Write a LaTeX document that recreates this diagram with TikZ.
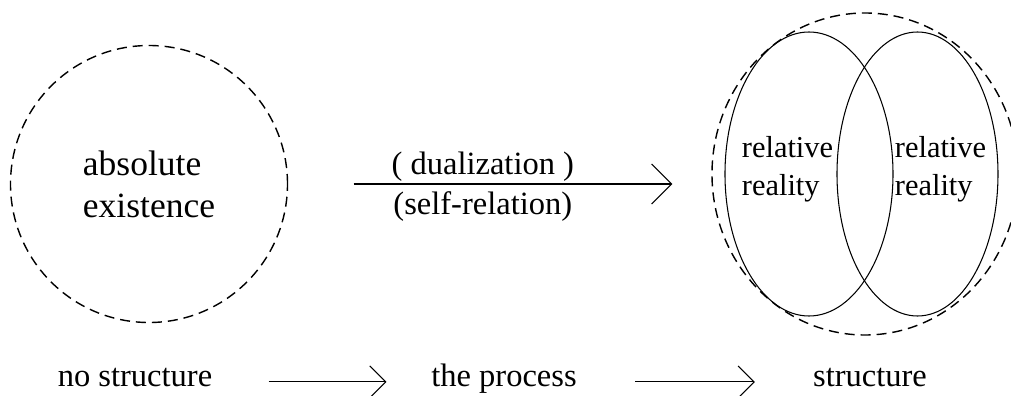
\documentclass[tikz,border=0pt]{standalone}
\usepackage{fontspec}
\setmainfont{Liberation Serif}
\usepackage{tikz}
\usetikzlibrary{arrows.meta,positioning,shapes}
\tikzset{
    %Define style for the dashed outlines
    dcirc/.style={
           circle,
           dashed,
           dash pattern=on 5.7pt off 3.4pt,
           draw=black, line width=0.8pt,
           inner sep=0pt,
           align=left},
    dell/.style={
           ellipse,
           dashed,
           dash pattern=on 5.7pt off 3.4pt,
           draw=black, line width=0.8pt,
           inner sep=0pt},
    sell/.style={
           ellipse,
           draw=black, line width=0.6pt,
           inner sep=0pt},
    % Define text styles
    txt/.style={
           inner sep=0pt,
           font=\fontsize{18.5}{22}\selectfont},
    reltxt/.style={
           inner sep=0pt,
           align=left,
           font=\fontsize{17.3}{21.6}\selectfont},
    % Define arrow styles
    bigarr/.style={
           -{Straight Barb[length=0.4cm,width=0.8cm]},
           line width=0.6pt},
    arr/.style={
           -{Straight Barb[length=0.32cm,width=0.64cm]},
           line width=0.6pt}
}
\begin{document}
\begin{tikzpicture}
    \useasboundingbox (0,0) rectangle (20.22,7.9);

    % NO STRUCTURE
    \node[dcirc, minimum size=5.54cm,
          font=\fontsize{20.2}{23.9}\selectfont] at (2.98,4.22) (absolute) {absolute\\existence};

    % STRUCTURE
    \node[dell, minimum width=6.12cm, minimum height=6.44cm] at (17.30,4.42) (whole) {};
    \node[sell, minimum width=3.36cm, minimum height=5.68cm] at (16.18,4.42) (leftrel) {};
    \node[sell, minimum width=3.22cm, minimum height=5.68cm] at (18.35,4.42) (rightrel) {};
    \node[reltxt] at (15.75,4.52) (lefttxt) {relative\\reality};
    \node[reltxt] at (18.81,4.52) (righttxt) {relative\\reality};

    % DUALIZATION
    \draw[bigarr, shorten <=1.31cm, shorten >=0.78cm]
        (absolute.east) -- (absolute.east -| whole.west)
        node[txt, pos=0.46, above=1.3pt] (dual) {( dualization )}
        node[txt, pos=0.46, below=4pt] (selfrel) {(self-relation)};

    % BOTTOM ROW
    \node[txt, anchor=base] at (2.70,0.18) (nostruct) {no structure};
    \node[txt, anchor=base] at (10.08,0.18) (process) {the process};
    \node[txt, anchor=base] at (17.40,0.18) (struct) {structure};
    \draw[arr, shorten <=1.12cm, shorten >=0.89cm] (nostruct.mid east) -- (process.mid west);
    \draw[arr, shorten <=1.16cm, shorten >=1.16cm] (process.mid east) -- (struct.mid west);

\end{tikzpicture}
\end{document}
